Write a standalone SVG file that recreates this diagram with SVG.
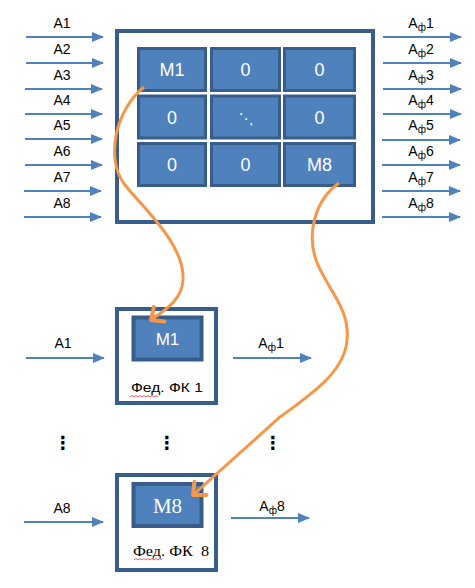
<svg xmlns="http://www.w3.org/2000/svg" width="475" height="588" viewBox="0 0 475 588">
<defs>
<marker id="ab" viewBox="0 0 12 10" refX="11" refY="5" markerWidth="12" markerHeight="10" markerUnits="userSpaceOnUse" orient="auto">
<path d="M0,0 L12,5 L0,10 Z" fill="#4F81BD"/>
</marker>
<marker id="ao" viewBox="0 0 18 22" refX="15" refY="11" markerWidth="18" markerHeight="22" markerUnits="userSpaceOnUse" orient="auto">
<path d="M5,2 L15,11 L5,20" fill="none" stroke="#F79646" stroke-width="4" stroke-linecap="round" stroke-linejoin="round"/>
</marker>
<style>
.box{fill:#fff;stroke:#385D8A;stroke-width:4}
.cell{fill:#4F81BD;stroke:#385D8A;stroke-width:3}
.ct{font-family:"Liberation Sans",Arial,sans-serif;font-size:18px;fill:#fff;text-anchor:middle}
.lb{font-family:"Liberation Sans",Arial,sans-serif;font-size:14px;fill:#000;text-anchor:middle}
.sub{font-size:10px}
.ar{stroke:#4F81BD;stroke-width:2;fill:none;marker-end:url(#ab)}
.or{stroke:#F79646;stroke-width:3;fill:none;marker-end:url(#ao)}
.dots{font-family:"DejaVu Sans",sans-serif;font-size:18px;font-weight:bold;fill:#000;text-anchor:middle}
</style>
</defs>
<rect width="475" height="588" fill="#fff"/>

<g id="matrix">
<rect class="box" x="117" y="31" width="256" height="191"/>
<rect class="cell" x="138.5" y="48.5" width="67" height="42"/>
<rect class="cell" x="211.5" y="48.5" width="68" height="42"/>
<rect class="cell" x="284.5" y="48.5" width="70" height="42"/>
<rect class="cell" x="138.5" y="96" width="67" height="42"/>
<rect class="cell" x="211.5" y="96" width="68" height="42"/>
<rect class="cell" x="284.5" y="96" width="70" height="42"/>
<rect class="cell" x="138.5" y="143.5" width="67" height="42"/>
<rect class="cell" x="211.5" y="143.5" width="68" height="42"/>
<rect class="cell" x="284.5" y="143.5" width="70" height="42"/>
<text class="ct" x="172" y="76">M1</text>
<text class="ct" x="245.5" y="76">0</text>
<text class="ct" x="319.5" y="76">0</text>
<text class="ct" x="172" y="124">0</text>
<text class="ct" x="246" y="124" style="font-family:'DejaVu Sans',sans-serif;font-size:15px">⋱</text>
<text class="ct" x="319.5" y="124">0</text>
<text class="ct" x="172" y="171">0</text>
<text class="ct" x="245.5" y="171">0</text>
<text class="ct" x="319.5" y="171">M8</text>
</g>

<g id="fk1">
<rect class="box" x="117" y="309" width="99" height="94"/>
<rect class="cell" x="133.5" y="317.5" width="68" height="42" style="stroke-width:4"/>
<text class="ct" x="167.5" y="345" style="font-size:17px">M1</text>
<text x="131" y="392" style="font-family:'Liberation Sans',Arial,sans-serif;font-size:13.5px" textLength="72" lengthAdjust="spacingAndGlyphs">Фед. ФК 1</text>
<path d="M130,397 l2,-1.5 l2,1.5 l2,-1.5 l2,1.5 l2,-1.5 l2,1.5 l2,-1.5 l2,1.5 l2,-1.5 l2,1.5 l2,-1.5 l2,1.5 l2,-1.5 l2,1.5" fill="none" stroke="#E03030" stroke-width="0.8"/>
</g>

<g id="fk8">
<rect class="box" x="117" y="475" width="99" height="95"/>
<rect class="cell" x="133.5" y="484" width="68" height="42" style="stroke-width:4"/>
<text class="ct" x="167.5" y="513" style="font-family:'Liberation Serif','Times New Roman',serif;font-size:21px">M8</text>
<text x="133" y="556" style="font-family:'Liberation Serif','Times New Roman',serif;font-size:15px;white-space:pre" xml:space="preserve" textLength="76" lengthAdjust="spacingAndGlyphs">Фед. ФК  8</text>
<path d="M134,560 l2,-1.5 l2,1.5 l2,-1.5 l2,1.5 l2,-1.5 l2,1.5 l2,-1.5 l2,1.5 l2,-1.5 l2,1.5 l2,-1.5 l2,1.5 l2,-1.5 l2,1.5" fill="none" stroke="#E03030" stroke-width="0.8"/>
</g>

<g id="labels">
<text class="lb" x="62" y="28">A1</text>
<text class="lb" x="62" y="54">A2</text>
<text class="lb" x="62" y="80">A3</text>
<text class="lb" x="62" y="105">A4</text>
<text class="lb" x="62" y="130">A5</text>
<text class="lb" x="62" y="156">A6</text>
<text class="lb" x="62" y="182">A7</text>
<text class="lb" x="62" y="208">A8</text>
<text class="lb" x="421" y="28">A<tspan class="sub" dy="3">ф</tspan><tspan dy="-3">1</tspan></text>
<text class="lb" x="421" y="54">A<tspan class="sub" dy="3">ф</tspan><tspan dy="-3">2</tspan></text>
<text class="lb" x="421" y="80">A<tspan class="sub" dy="3">ф</tspan><tspan dy="-3">3</tspan></text>
<text class="lb" x="421" y="105">A<tspan class="sub" dy="3">ф</tspan><tspan dy="-3">4</tspan></text>
<text class="lb" x="421" y="130">A<tspan class="sub" dy="3">ф</tspan><tspan dy="-3">5</tspan></text>
<text class="lb" x="421" y="156">A<tspan class="sub" dy="3">ф</tspan><tspan dy="-3">6</tspan></text>
<text class="lb" x="421" y="182">A<tspan class="sub" dy="3">ф</tspan><tspan dy="-3">7</tspan></text>
<text class="lb" x="421" y="208">A<tspan class="sub" dy="3">ф</tspan><tspan dy="-3">8</tspan></text>
<text class="lb" x="63" y="348">A1</text>
<text class="lb" x="271" y="348">A<tspan class="sub" dy="3">ф</tspan><tspan dy="-3">1</tspan></text>
<text class="lb" x="62" y="513">A8</text>
<text class="lb" x="272" y="511">A<tspan class="sub" dy="3">ф</tspan><tspan dy="-3">8</tspan></text>
<text class="dots" x="63" y="449">⋮</text>
<text class="dots" x="167" y="449">⋮</text>
<text class="dots" x="273" y="449">⋮</text>
</g>

<g id="connectors">
<line class="ar" x1="26" y1="37" x2="103" y2="37"/>
<line class="ar" x1="26" y1="63" x2="103" y2="63"/>
<line class="ar" x1="25" y1="89" x2="102" y2="89"/>
<line class="ar" x1="25" y1="114" x2="102" y2="114"/>
<line class="ar" x1="25" y1="139" x2="102" y2="139"/>
<line class="ar" x1="25" y1="165" x2="102" y2="165"/>
<line class="ar" x1="24" y1="191" x2="101" y2="191"/>
<line class="ar" x1="24" y1="217" x2="101" y2="217"/>
<line class="ar" x1="383" y1="37" x2="461" y2="37"/>
<line class="ar" x1="383" y1="63" x2="461" y2="63"/>
<line class="ar" x1="383" y1="89" x2="461" y2="89"/>
<line class="ar" x1="383" y1="114" x2="461" y2="114"/>
<line class="ar" x1="382" y1="140" x2="460" y2="140"/>
<line class="ar" x1="382" y1="165" x2="460" y2="165"/>
<line class="ar" x1="382" y1="191" x2="460" y2="191"/>
<line class="ar" x1="382" y1="217" x2="460" y2="217"/>
<line class="ar" x1="26" y1="358" x2="104" y2="358"/>
<line class="ar" x1="233" y1="358" x2="311" y2="358"/>
<line class="ar" x1="24" y1="522" x2="103" y2="522"/>
<line class="ar" x1="231" y1="518" x2="309" y2="518"/>
<path class="or" d="M144,87 C115,110 105,160 125,185 C145,210 185,245 183,280 C182,300 165,310 151,320"/>
<path class="or" d="M339,183 C315,200 305,235 318,265 C330,292 350,310 347,340 C345,372 310,395 280,417 L193,495"/>
</g>
</svg>
